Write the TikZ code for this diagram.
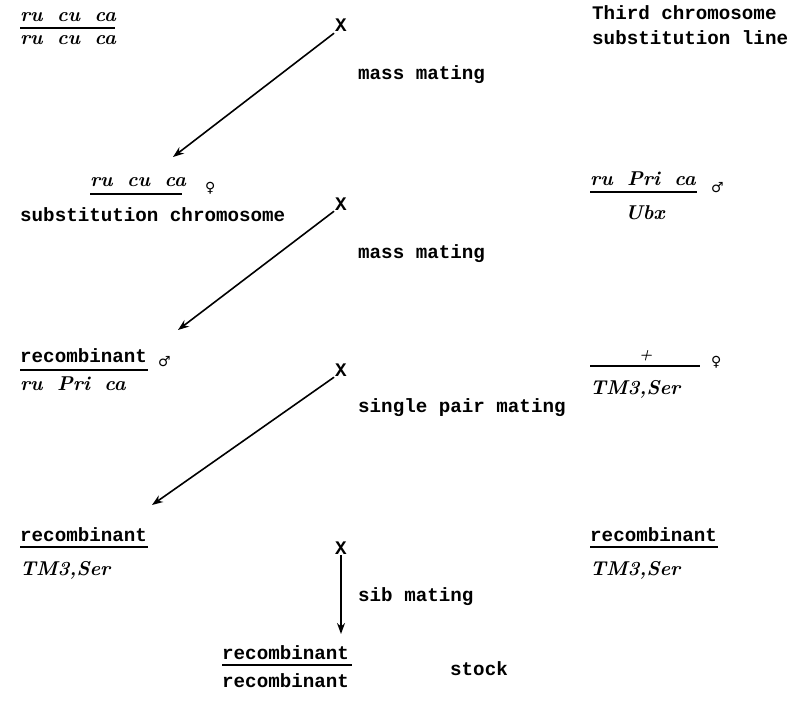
\documentclass[tikz,border=0pt]{standalone}
\usepackage{fontspec}
\setmonofont{Liberation Mono}
\newfontfamily\symfont{DejaVu Sans}
\usetikzlibrary{arrows.meta}
\newcommand{\gsp}{\hspace{0.72em}}
\begin{document}
\begin{tikzpicture}[x=1pt,y=-1pt,
 lbl/.style={font=\fontsize{19.2}{19.2}\selectfont\ttfamily\bfseries, inner sep=0pt, anchor=base west},
 gene/.style={font=\fontsize{20}{20}\selectfont\bfseries\itshape, inner sep=0pt, anchor=base west},
 sex/.style={font=\fontsize{14}{14}\selectfont\symfont, inner sep=0pt, anchor=base west},
 xmark/.style={font=\fontsize{19.2}{19.2}\selectfont\ttfamily\bfseries, inner sep=1pt, anchor=base},
 bar/.style={line width=1.5pt},
 cross/.style={line width=1.6pt, -{Stealth[length=11pt,width=8pt]}}]
\useasboundingbox (0,0) rectangle (791,709);
% row 1
\node[gene] (n1) at (20,22) {ru\gsp cu\gsp ca};
\draw[bar] (20,28) -- (115,28);
\node[gene] (d1) at (20,45) {ru\gsp cu\gsp ca};
\node[lbl] (t1) at (592,20) {Third chromosome};
\node[lbl] (t2) at (592,45) {substitution line};
\node[xmark] (x1) at (341,32) {X};
\node[lbl] (m1) at (358,79) {mass mating};
\coordinate (e1) at (173,157);
\draw[cross] (x1.south west) -- (e1);
% row 2
\node[gene] (n2) at (90,186) {ru\gsp cu\gsp ca};
\draw[bar] (90,194) -- (182,194);
\node[sex] (f2) at (205,192) {♀};
\node[lbl] (s2) at (20,221) {substitution chromosome};
\node[gene] (n2r) at (590,185) {ru\gsp Pri\gsp ca};
\draw[bar] (590,192) -- (697,192);
\node[sex] (m2r) at (711,192) {♂};
\node[gene] (d2r) at (625,219) {Ubx};
\node[xmark] (x2) at (341,210) {X};
\node[lbl] (m2) at (358,258) {mass mating};
\coordinate (e2) at (178,330);
\draw[cross] (x2.south west) -- (e2);
% row 3
\node[lbl] (n3) at (20,362) {recombinant};
\draw[bar] (20,370) -- (148,370);
\node[sex] (m3) at (158,366) {♂};
\node[gene] (d3) at (20,390) {ru\gsp Pri\gsp ca};
\node[gene] (n3r) at (639,359) {\fontsize{15}{15}\selectfont +};
\draw[bar] (590,366) -- (700,366);
\node[sex] (f3r) at (711,366) {♀};
\node[gene] (d3r) at (590,394) {TM3,Ser};
\node[xmark] (x3) at (341,376) {X};
\node[lbl] (m3l) at (358,412) {single pair mating};
\coordinate (e3) at (152,505);
\draw[cross] (x3.south west) -- (e3);
% row 4
\node[lbl] (n4) at (20,541) {recombinant};
\draw[bar] (20,547) -- (148,547);
\node[gene] (d4) at (20,575) {TM3,Ser};
\node[lbl] (n4r) at (590,541) {recombinant};
\draw[bar] (590,547) -- (718,547);
\node[gene] (d4r) at (590,575) {TM3,Ser};
\node[xmark] (x4) at (341,554) {X};
\node[lbl] (m4) at (358,601) {sib mating};
% result
\node[lbl] (n5) at (222,659) {recombinant};
\draw[bar] (222,665) -- (352,665);
\node[lbl] (d5) at (222,687) {recombinant};
\node[lbl] (st) at (450,675) {stock};
\coordinate (e4) at (341,634);
\draw[cross] (x4.south) -- (e4);
\end{tikzpicture}
\end{document}
